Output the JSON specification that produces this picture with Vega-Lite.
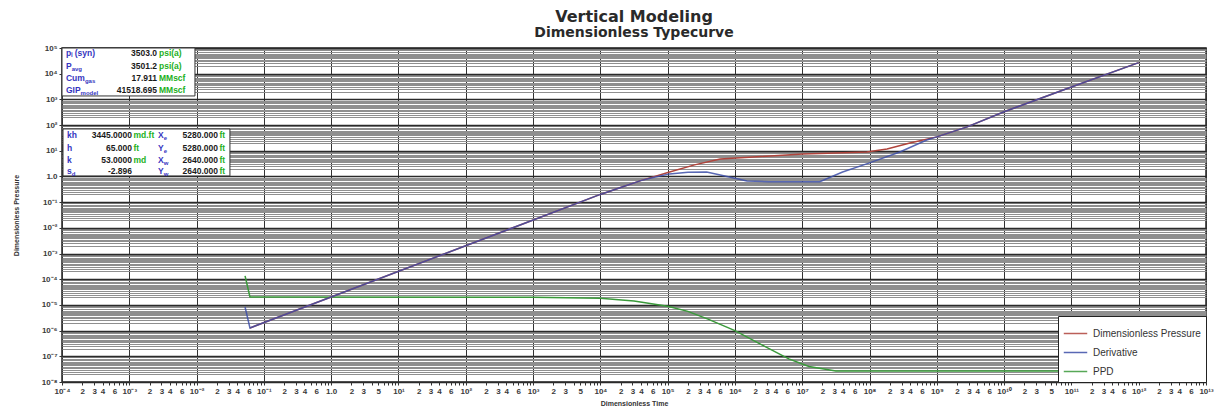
{
  "$schema": "https://vega.github.io/schema/vega-lite/v6.json",
  "width": 1144,
  "height": 334,
  "autosize": {"type": "none"},
  "padding": {"left": 62, "top": 48, "right": 13, "bottom": 28},
  "background": "white",
  "title": {"text": "Vertical Modeling", "subtitle": "Dimensionless Typecurve", "anchor": "middle", "font": "DejaVu Sans", "fontSize": 16, "fontWeight": "bold", "color": "#2a2a2a", "subtitleFont": "DejaVu Sans", "subtitleFontSize": 14, "subtitleFontWeight": "bold", "subtitleColor": "#2a2a2a", "subtitlePadding": 1, "offset": 4},
  "config": {
    "view": {"stroke": "#222", "strokeWidth": 1.5, "fill": "white"},
    "axis": {"labelFont": "Liberation Sans", "titleFont": "Liberation Sans"}
  },
  "datasets": {
    "curves": [
      {"series": "Dimensionless Pressure", "x": 0.0621, "y": 1.27e-6},
      {"series": "Dimensionless Pressure", "x": 1e4, "y": 0.2},
      {"series": "Dimensionless Pressure", "x": 1.95e4, "y": 0.363},
      {"series": "Dimensionless Pressure", "x": 3.98e4, "y": 0.69},
      {"series": "Dimensionless Pressure", "x": 1.07e5, "y": 1.5},
      {"series": "Dimensionless Pressure", "x": 2.51e5, "y": 2.82},
      {"series": "Dimensionless Pressure", "x": 6.03e5, "y": 4.79},
      {"series": "Dimensionless Pressure", "x": 1.86e6, "y": 5.75},
      {"series": "Dimensionless Pressure", "x": 1.02e7, "y": 7.5},
      {"series": "Dimensionless Pressure", "x": 3.16e7, "y": 8.13},
      {"series": "Dimensionless Pressure", "x": 9.12e7, "y": 8.91},
      {"series": "Dimensionless Pressure", "x": 1.82e8, "y": 11.7},
      {"series": "Dimensionless Pressure", "x": 3.98e8, "y": 20.0},
      {"series": "Dimensionless Pressure", "x": 1e9, "y": 34.7},
      {"series": "Dimensionless Pressure", "x": 2.82e9, "y": 85.1},
      {"series": "Dimensionless Pressure", "x": 1e10, "y": 331},
      {"series": "Dimensionless Pressure", "x": 1e11, "y": 3020},
      {"series": "Dimensionless Pressure", "x": 1e12, "y": 26900},
      {"series": "Derivative", "x": 0.0525, "y": 8.3e-6},
      {"series": "Derivative", "x": 0.0621, "y": 1.27e-6},
      {"series": "Derivative", "x": 1e4, "y": 0.2},
      {"series": "Derivative", "x": 1.95e4, "y": 0.363},
      {"series": "Derivative", "x": 3.98e4, "y": 0.69},
      {"series": "Derivative", "x": 6.31e4, "y": 0.93},
      {"series": "Derivative", "x": 1.07e5, "y": 1.26},
      {"series": "Derivative", "x": 2.0e5, "y": 1.45},
      {"series": "Derivative", "x": 3.8e5, "y": 1.5},
      {"series": "Derivative", "x": 7.08e5, "y": 1.05},
      {"series": "Derivative", "x": 1.51e6, "y": 0.67},
      {"series": "Derivative", "x": 3.16e6, "y": 0.62},
      {"series": "Derivative", "x": 1.82e7, "y": 0.62},
      {"series": "Derivative", "x": 3.98e7, "y": 1.5},
      {"series": "Derivative", "x": 1e8, "y": 3.39},
      {"series": "Derivative", "x": 2.82e8, "y": 8.91},
      {"series": "Derivative", "x": 7.08e8, "y": 26.3},
      {"series": "Derivative", "x": 1e9, "y": 34.7},
      {"series": "Derivative", "x": 2.82e9, "y": 85.1},
      {"series": "Derivative", "x": 1e10, "y": 331},
      {"series": "Derivative", "x": 1e11, "y": 3020},
      {"series": "Derivative", "x": 1e12, "y": 26900},
      {"series": "PPD", "x": 0.0525, "y": 1.35e-4},
      {"series": "PPD", "x": 0.0621, "y": 2.04e-5},
      {"series": "PPD", "x": 1e3, "y": 2.0e-5},
      {"series": "PPD", "x": 1e4, "y": 1.82e-5},
      {"series": "PPD", "x": 3.16e4, "y": 1.41e-5},
      {"series": "PPD", "x": 1e5, "y": 8.9e-6},
      {"series": "PPD", "x": 2.0e5, "y": 5.6e-6},
      {"series": "PPD", "x": 3.98e5, "y": 2.8e-6},
      {"series": "PPD", "x": 1e6, "y": 1.0e-6},
      {"series": "PPD", "x": 2.51e6, "y": 2.8e-7},
      {"series": "PPD", "x": 6.31e6, "y": 7.9e-8},
      {"series": "PPD", "x": 1.26e7, "y": 4.0e-8},
      {"series": "PPD", "x": 3.16e7, "y": 2.7e-8},
      {"series": "PPD", "x": 1e12, "y": 2.7e-8}
    ],
    "boxes": [
      {"x": 1e-4, "x2": 0.00946, "y": 100000, "y2": 1360},
      {"x": 1.035e-4, "x2": 0.0313, "y": 70.5, "y2": 1.05}
    ],
    "ann": [
      {"role": "label", "x": 1.146e-4, "y": 64000, "text": "pᵢ (syn)"},
      {"role": "label", "x": 1.146e-4, "y": 20000, "text": "P"},
      {"role": "sub", "x": 1.393e-4, "y": 20000, "text": "avg"},
      {"role": "label", "x": 1.146e-4, "y": 6800, "text": "Cum"},
      {"role": "sub", "x": 2.19e-4, "y": 6800, "text": "gas"},
      {"role": "label", "x": 1.146e-4, "y": 2300, "text": "GIP"},
      {"role": "sub", "x": 1.89e-4, "y": 2300, "text": "model"},
      {"role": "value", "x": 2.58e-3, "y": 64000, "text": "3503.0"},
      {"role": "value", "x": 2.58e-3, "y": 20000, "text": "3501.2"},
      {"role": "value", "x": 2.58e-3, "y": 6800, "text": "17.911"},
      {"role": "value", "x": 2.58e-3, "y": 2300, "text": "41518.695"},
      {"role": "unit", "x": 2.76e-3, "y": 64000, "text": "psi(a)"},
      {"role": "unit", "x": 2.76e-3, "y": 20000, "text": "psi(a)"},
      {"role": "unit", "x": 2.76e-3, "y": 6800, "text": "MMscf"},
      {"role": "unit", "x": 2.76e-3, "y": 2300, "text": "MMscf"},
      {"role": "label", "x": 1.186e-4, "y": 41.2, "text": "kh"},
      {"role": "label", "x": 1.186e-4, "y": 12.9, "text": "h"},
      {"role": "label", "x": 1.186e-4, "y": 4.39, "text": "k"},
      {"role": "label", "x": 1.186e-4, "y": 1.64, "text": "s"},
      {"role": "sub", "x": 1.393e-4, "y": 1.64, "text": "d"},
      {"role": "value", "x": 1.097e-3, "y": 41.2, "text": "3445.0000"},
      {"role": "value", "x": 1.097e-3, "y": 12.9, "text": "65.000"},
      {"role": "value", "x": 1.097e-3, "y": 4.39, "text": "53.0000"},
      {"role": "value", "x": 1.097e-3, "y": 1.64, "text": "-2.896"},
      {"role": "unit", "x": 1.153e-3, "y": 41.2, "text": "md.ft"},
      {"role": "unit", "x": 1.153e-3, "y": 12.9, "text": "ft"},
      {"role": "unit", "x": 1.153e-3, "y": 4.39, "text": "md"},
      {"role": "label", "x": 2.67e-3, "y": 41.2, "text": "X"},
      {"role": "label", "x": 2.67e-3, "y": 12.9, "text": "Y"},
      {"role": "label", "x": 2.67e-3, "y": 4.39, "text": "X"},
      {"role": "label", "x": 2.67e-3, "y": 1.64, "text": "Y"},
      {"role": "sub", "x": 3.24e-3, "y": 41.2, "text": "e"},
      {"role": "sub", "x": 3.24e-3, "y": 12.9, "text": "e"},
      {"role": "sub", "x": 3.24e-3, "y": 4.39, "text": "w"},
      {"role": "sub", "x": 3.24e-3, "y": 1.64, "text": "w"},
      {"role": "value", "x": 0.0208, "y": 41.2, "text": "5280.000"},
      {"role": "value", "x": 0.0208, "y": 12.9, "text": "5280.000"},
      {"role": "value", "x": 0.0208, "y": 4.39, "text": "2640.000"},
      {"role": "value", "x": 0.0208, "y": 1.64, "text": "2640.000"},
      {"role": "unit", "x": 0.0219, "y": 41.2, "text": "ft"},
      {"role": "unit", "x": 0.0219, "y": 12.9, "text": "ft"},
      {"role": "unit", "x": 0.0219, "y": 4.39, "text": "ft"},
      {"role": "unit", "x": 0.0219, "y": 1.64, "text": "ft"}
    ]
  },
  "encoding": {
    "x": {"field": "x", "type": "quantitative", "title": "Dimensionless Time",
      "scale": {"type": "log", "domain": [1e-4, 1e13], "nice": false},
      "axis": {
        "values": [1e-4,2e-4,3e-4,4e-4,5e-4,6e-4,7e-4,8e-4,9e-4,1e-3,2e-3,3e-3,4e-3,5e-3,6e-3,7e-3,8e-3,9e-3,1e-2,2e-2,3e-2,4e-2,5e-2,6e-2,7e-2,8e-2,9e-2,1e-1,2e-1,3e-1,4e-1,5e-1,6e-1,7e-1,8e-1,9e-1,1,2,3,4,5,6,7,8,9,1e1,2e1,3e1,4e1,5e1,6e1,7e1,8e1,9e1,1e2,2e2,3e2,4e2,5e2,6e2,7e2,8e2,9e2,1e3,2e3,3e3,4e3,5e3,6e3,7e3,8e3,9e3,1e4,2e4,3e4,4e4,5e4,6e4,7e4,8e4,9e4,1e5,2e5,3e5,4e5,5e5,6e5,7e5,8e5,9e5,1e6,2e6,3e6,4e6,5e6,6e6,7e6,8e6,9e6,1e7,2e7,3e7,4e7,5e7,6e7,7e7,8e7,9e7,1e8,2e8,3e8,4e8,5e8,6e8,7e8,8e8,9e8,1e9,2e9,3e9,4e9,5e9,6e9,7e9,8e9,9e9,1e10,2e10,3e10,4e10,5e10,6e10,7e10,8e10,9e10,1e11,2e11,3e11,4e11,5e11,6e11,7e11,8e11,9e11,1e12,2e12,3e12,4e12,5e12,6e12,7e12,8e12,9e12,1e13],
        "labelExpr": "abs(log(datum.value)/LN10-round(log(datum.value)/LN10))<0.001 ? ['10⁻⁴','10⁻³','10⁻²','10⁻¹','1.0','10¹','10²','10³','10⁴','10⁵','10⁶','10⁷','10⁸','10⁹','10¹⁰','10¹¹','10¹²','10¹³'][round(log(datum.value)/LN10)+4] : (indexof(indexof([0,3,10],floor(log(datum.value)/LN10+0.001))>=0 ? [2,3,5] : [2,3,4,6], round(datum.value/pow(10,floor(log(datum.value)/LN10+0.001))))>=0 ? ''+round(datum.value/pow(10,floor(log(datum.value)/LN10+0.001))) : '')",
        "grid": true,
        "gridColor": "#333333",
        "gridWidth": 1,
        "gridOpacity": {"condition": {"test": "abs(log(datum.value)/LN10-round(log(datum.value)/LN10))<0.001", "value": 1}, "value": 0},
        "domain": false,
        "tickSize": 3,
        "tickColor": "#333333",
        "labelFontSize": 8,
        "labelFontWeight": "bold",
        "labelColor": "#3a3a3a",
        "labelOverlap": false,
        "labelFlush": false,
        "labelPadding": 2,
        "titleFontSize": 7,
        "titleFontWeight": "bold",
        "titleColor": "#333333",
        "titlePadding": 4
      }
    },
    "y": {"field": "y", "type": "quantitative", "title": "Dimensionless Pressure",
      "scale": {"type": "log", "domain": [1e-8, 1e5], "nice": false},
      "axis": {
        "values": [1e-8,2e-8,2.5e-8,3e-8,3.5e-8,4e-8,4.5e-8,5e-8,5.5e-8,6e-8,7e-8,8e-8,9e-8,1e-7,2e-7,2.5e-7,3e-7,3.5e-7,4e-7,4.5e-7,5e-7,5.5e-7,6e-7,7e-7,8e-7,9e-7,1e-6,2e-6,2.5e-6,3e-6,3.5e-6,4e-6,4.5e-6,5e-6,5.5e-6,6e-6,7e-6,8e-6,9e-6,1e-5,2e-5,2.5e-5,3e-5,3.5e-5,4e-5,4.5e-5,5e-5,5.5e-5,6e-5,7e-5,8e-5,9e-5,1e-4,2e-4,2.5e-4,3e-4,3.5e-4,4e-4,4.5e-4,5e-4,5.5e-4,6e-4,7e-4,8e-4,9e-4,1e-3,2e-3,2.5e-3,3e-3,3.5e-3,4e-3,4.5e-3,5e-3,5.5e-3,6e-3,7e-3,8e-3,9e-3,1e-2,2e-2,2.5e-2,3e-2,3.5e-2,4e-2,4.5e-2,5e-2,5.5e-2,6e-2,7e-2,8e-2,9e-2,1e-1,2e-1,2.5e-1,3e-1,3.5e-1,4e-1,4.5e-1,5e-1,5.5e-1,6e-1,7e-1,8e-1,9e-1,1,2,2.5,3,3.5,4,4.5,5,5.5,6,7,8,9,1e1,2e1,2.5e1,3e1,3.5e1,4e1,4.5e1,5e1,5.5e1,6e1,7e1,8e1,9e1,1e2,2e2,2.5e2,3e2,3.5e2,4e2,4.5e2,5e2,5.5e2,6e2,7e2,8e2,9e2,1e3,2e3,2.5e3,3e3,3.5e3,4e3,4.5e3,5e3,5.5e3,6e3,7e3,8e3,9e3,1e4,2e4,2.5e4,3e4,3.5e4,4e4,4.5e4,5e4,5.5e4,6e4,7e4,8e4,9e4,1e5],
        "labelExpr": "abs(log(datum.value)/LN10-round(log(datum.value)/LN10))<0.001 ? ['10⁻⁸','10⁻⁷','10⁻⁶','10⁻⁵','10⁻⁴','10⁻³','10⁻²','10⁻¹','1.0','10¹','10²','10³','10⁴','10⁵'][round(log(datum.value)/LN10)+8] : ''",
        "grid": true,
        "gridColor": {"condition": {"test": "abs(log(datum.value)/LN10-round(log(datum.value)/LN10))<0.001", "value": "#2a2a2a"}, "value": "#8f8f8f"},
        "gridWidth": {"condition": {"test": "abs(log(datum.value)/LN10-round(log(datum.value)/LN10))<0.001", "value": 1.5}, "value": 1},
        "domain": false,
        "tickSize": 3,
        "tickColor": "#333333",
        "tickOpacity": {"condition": {"test": "abs(log(datum.value)/LN10-round(log(datum.value)/LN10))<0.001", "value": 1}, "value": 0},
        "labelFontSize": 8,
        "labelFontWeight": "bold",
        "labelColor": "#3a3a3a",
        "labelOverlap": false,
        "labelPadding": 2,
        "titleFontSize": 7,
        "titleFontWeight": "bold",
        "titleColor": "#333333",
        "titlePadding": 22
      }
    }
  },
  "layer": [
    {
      "data": {"name": "curves"},
      "transform": [{"filter": "datum.series === 'PPD'"}],
      "mark": {"type": "line", "strokeWidth": 1.5},
      "encoding": {
        "color": {"datum": "PPD", "type": "nominal",
          "scale": {"domain": ["Dimensionless Pressure", "Derivative", "PPD"], "range": ["#b0443c", "#3c4ea8", "#3a9a3a"]},
          "legend": {"title": null, "orient": "bottom-right", "offset": 0, "fillColor": "white", "strokeColor": "#222222", "padding": 5, "symbolType": "stroke", "symbolSize": 550, "symbolStrokeWidth": 1.5, "labelFontSize": 10, "labelFont": "Liberation Sans", "labelColor": "#333333", "rowPadding": 1, "labelOffset": 5, "cornerRadius": 0}
        }
      }
    },
    {
      "data": {"name": "curves"},
      "transform": [{"filter": "datum.series === 'Dimensionless Pressure'"}],
      "mark": {"type": "line", "strokeWidth": 1.5},
      "encoding": {
        "color": {"datum": "Dimensionless Pressure", "type": "nominal"}
      }
    },
    {
      "data": {"name": "curves"},
      "transform": [{"filter": "datum.series === 'Derivative'"}],
      "mark": {"type": "line", "strokeWidth": 1.5, "opacity": 0.85},
      "encoding": {
        "color": {"datum": "Derivative", "type": "nominal"}
      }
    },
    {
      "data": {"name": "boxes"},
      "mark": {"type": "rect", "fill": "white", "stroke": "#333333", "strokeWidth": 1},
      "encoding": {
        "x2": {"field": "x2"},
        "y2": {"field": "y2"}
      }
    },
    {
      "data": {"name": "ann"},
      "transform": [{"filter": "datum.role === 'label'"}],
      "mark": {"type": "text", "align": "left", "baseline": "middle", "font": "Liberation Sans", "fontSize": 8.5, "fontWeight": "bold", "color": "#3535c0"},
      "encoding": {"text": {"field": "text"}}
    },
    {
      "data": {"name": "ann"},
      "transform": [{"filter": "datum.role === 'sub'"}],
      "mark": {"type": "text", "align": "left", "baseline": "middle", "dy": 3, "font": "Liberation Sans", "fontSize": 6, "fontWeight": "bold", "color": "#3535c0"},
      "encoding": {"text": {"field": "text"}}
    },
    {
      "data": {"name": "ann"},
      "transform": [{"filter": "datum.role === 'value'"}],
      "mark": {"type": "text", "align": "right", "baseline": "middle", "font": "Liberation Sans", "fontSize": 8.5, "fontWeight": "bold", "color": "#1a1a1a"},
      "encoding": {"text": {"field": "text"}}
    },
    {
      "data": {"name": "ann"},
      "transform": [{"filter": "datum.role === 'unit'"}],
      "mark": {"type": "text", "align": "left", "baseline": "middle", "font": "Liberation Sans", "fontSize": 8.5, "fontWeight": "bold", "color": "#22b022"},
      "encoding": {"text": {"field": "text"}}
    }
  ]
}
